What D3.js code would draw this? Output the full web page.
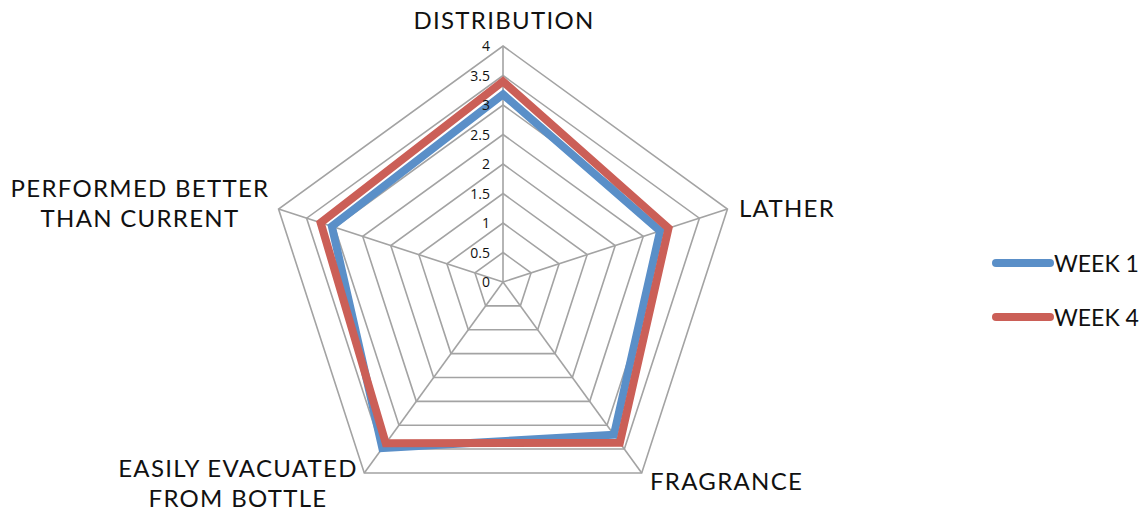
<!DOCTYPE html>
<html>
<head>
<meta charset="UTF-8">
<script src="https://cdn.jsdelivr.net/npm/d3@7"></script>
<style>
    body { margin: 0; background: #fff; }
    svg { display: block; }
    .cat { font-family: Lato, "Open Sans", sans-serif; font-size: 24px; letter-spacing: 1.3px; fill: #111; }
    .leg { font-family: Lato, "Open Sans", sans-serif; font-size: 23px; fill: #111; }
    .tick-label { font-family: "Open Sans", "Liberation Sans", sans-serif; font-size: 14px; fill: #111; }
    .grid { fill: none; stroke: #a3a3a3; stroke-width: 1.6; }
    .series { fill: none; stroke-width: 8; stroke-linejoin: miter; }
</style>
</head>
<body>
<svg id="main" width="1148" height="512"></svg>
<script>
// data
var categories = ['DISTRIBUTION', 'LATHER', 'FRAGRANCE', 'EASILY EVACUATED\nFROM BOTTLE', 'PERFORMED BETTER\nTHAN CURRENT'];
var week1 = [3.18, 2.8, 3.2, 3.48, 3.05];
var week4 = [3.4, 2.95, 3.37, 3.38, 3.25];
var ticks = [0, 0.5, 1, 1.5, 2, 2.5, 3, 3.5, 4];
var seriesNames = ['WEEK 1', 'WEEK 4'];
var colors = ['#5a8fc8', '#cb5f57'];

var svg = d3.select('#main');
var cx = 503, cy = 282;

var r = d3.scaleLinear().domain([0, 4]).range([0, 236]);
var angle = d3.scaleLinear().domain([0, categories.length]).range([0, 2 * Math.PI]);

function pt(i, v) {
    var a = angle(i);
    return [cx + r(v) * Math.sin(a), cy - r(v) * Math.cos(a)];
}

var lineGen = d3.line().curve(d3.curveLinearClosed);

// web rings
svg.selectAll('path.ring')
    .data(ticks.slice(1))
    .enter().append('path')
    .attr('class', 'grid ring')
    .attr('d', function (t) { return lineGen(categories.map(function (c, i) { return pt(i, t); })); });

// spokes
svg.selectAll('line.spoke')
    .data(categories)
    .enter().append('line')
    .attr('class', 'grid spoke')
    .attr('x1', cx).attr('y1', cy)
    .attr('x2', function (c, i) { return pt(i, 4)[0]; })
    .attr('y2', function (c, i) { return pt(i, 4)[1]; });

// series
[week1, week4].forEach(function (vals, k) {
    svg.append('path')
        .attr('class', 'series')
        .attr('stroke', colors[k])
        .attr('d', lineGen(vals.map(function (v, i) { return pt(i, v); })));
});

// tick labels along the top spoke (drawn over the series)
svg.selectAll('text.tick-label')
    .data(ticks)
    .enter().append('text')
    .attr('class', 'tick-label')
    .attr('x', cx - 13)
    .attr('y', function (t) { return cy - r(t) + 5; })
    .attr('text-anchor', 'end')
    .text(function (t) { return t; });

// category labels
var labelPos = [
    { x: 504, y: 29, anchor: 'middle' },
    { x: 739, y: 217, anchor: 'start' },
    { x: 650, y: 490, anchor: 'start' },
    { x: 238, y: 477, anchor: 'middle' },
    { x: 140, y: 197, anchor: 'middle' }
];
categories.forEach(function (c, i) {
    var t = svg.append('text')
        .attr('class', 'cat')
        .attr('x', labelPos[i].x)
        .attr('y', labelPos[i].y)
        .attr('text-anchor', labelPos[i].anchor);
    c.split('\n').forEach(function (line, j) {
        t.append('tspan')
            .attr('x', labelPos[i].x)
            .attr('dy', j === 0 ? 0 : 30)
            .text(line);
    });
});

// legend
var legend = svg.selectAll('g.legend')
    .data(seriesNames)
    .enter().append('g')
    .attr('class', 'legend')
    .attr('transform', function (d, i) { return 'translate(0,' + (263 + i * 54) + ')'; });
legend.append('line')
    .attr('x1', 996).attr('x2', 1050)
    .attr('y1', 0).attr('y2', 0)
    .attr('stroke', function (d, i) { return colors[i]; })
    .attr('stroke-width', 8)
    .attr('stroke-linecap', 'round');
legend.append('text')
    .attr('class', 'leg')
    .attr('x', 1054)
    .attr('y', 9)
    .text(function (d) { return d; });
</script>
</body>
</html>
